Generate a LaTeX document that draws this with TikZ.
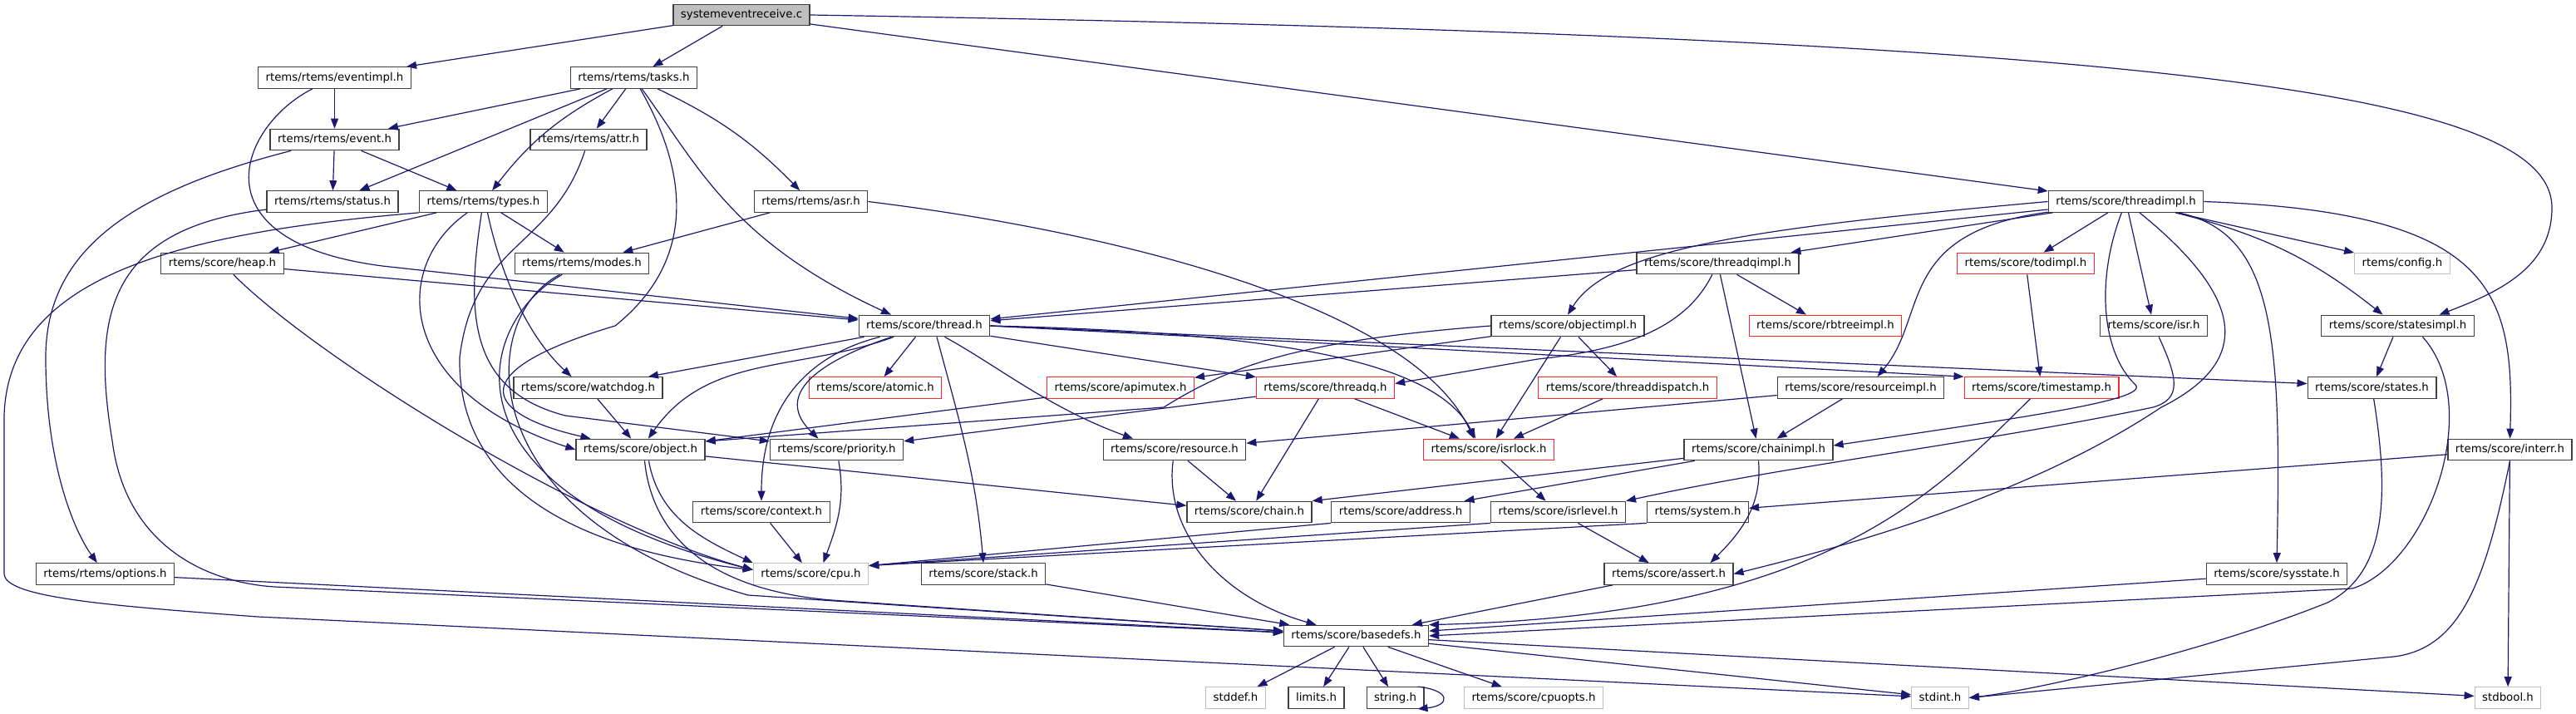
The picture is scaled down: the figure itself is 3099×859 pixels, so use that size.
\documentclass[tikz,border=0pt]{standalone}
\usepackage{fontspec}
\setmainfont{DejaVu Sans}
\usetikzlibrary{arrows.meta}
\definecolor{edgeblue}{RGB}{25,25,112}
\definecolor{boxgrey}{RGB}{64,64,64}
\definecolor{lightgrey}{RGB}{191,191,191}
\definecolor{boxred}{RGB}{255,40,40}
\begin{document}
\begin{tikzpicture}[x=1pt,y=1pt,
  hdr/.style={draw=boxgrey, fill=white, line width=1.2pt, inner xsep=9pt, inner ysep=0pt, minimum height=25.5pt, text height=10pt, text depth=3pt, font=\fontsize{13.3}{16}\selectfont},
  redhdr/.style={hdr, draw=boxred},
  syshdr/.style={hdr, draw=lightgrey},
  tophdr/.style={hdr, fill=lightgrey},
  dep/.style={draw=edgeblue, line width=1.2pt, -{Triangle[length=12pt,width=9pt]}}]
        \useasboundingbox (0,0) rectangle (3099,-859);
        \node[tophdr] (src) at (892,-18) {systemeventreceive.c};
        \node[hdr] (evimpl) at (402.5,-93.5) {rtems/rtems/eventimpl.h};
        \node[hdr] (tasks) at (762.5,-93.5) {rtems/rtems/tasks.h};
        \node[hdr] (event) at (402.5,-168) {rtems/rtems/event.h};
        \node[hdr] (attr) at (708,-168) {rtems/rtems/attr.h};
        \node[hdr] (status) at (400,-242.5) {rtems/rtems/status.h};
        \node[hdr] (types) at (581.5,-242.5) {rtems/rtems/types.h};
        \node[hdr] (asr) at (975.5,-242.5) {rtems/rtems/asr.h};
        \node[hdr] (thimpl) at (2557.5,-242.5) {rtems/score/threadimpl.h};
        \node[hdr] (heap) at (267.5,-317) {rtems/score/heap.h};
        \node[hdr] (modes) at (700,-317) {rtems/rtems/modes.h};
        \node[hdr] (tqimpl) at (2066.5,-317) {rtems/score/threadqimpl.h};
        \node[redhdr] (todimpl) at (2437,-317) {rtems/score/todimpl.h};
        \node[syshdr] (config) at (2890,-317) {rtems/config.h};
        \node[hdr] (thread) at (1112,-392) {rtems/score/thread.h};
        \node[hdr] (objimpl) at (1886,-392) {rtems/score/objectimpl.h};
        \node[redhdr] (rbtree) at (2196,-392) {rtems/score/rbtreeimpl.h};
        \node[hdr] (isr) at (2591,-392) {rtems/score/isr.h};
        \node[hdr] (stimpl) at (2884.5,-392) {rtems/score/statesimpl.h};
        \node[hdr] (watchdog) at (707.5,-466.5) {rtems/score/watchdog.h};
        \node[redhdr] (atomic) at (1053,-466.5) {rtems/score/atomic.h};
        \node[redhdr] (apimutex) at (1348,-466.5) {rtems/score/apimutex.h};
        \node[redhdr] (threadq) at (1594.5,-466.5) {rtems/score/threadq.h};
        \node[redhdr] (tdisp) at (1958,-466.5) {rtems/score/threaddispatch.h};
        \node[hdr] (resimpl) at (2238.5,-466.5) {rtems/score/resourceimpl.h};
        \node[redhdr] (tstamp) at (2456,-466.5) {rtems/score/timestamp.h};
        \node[hdr] (states) at (2853.5,-466.5) {rtems/score/states.h};
        \node[hdr] (object) at (770.5,-541) {rtems/score/object.h};
        \node[hdr] (priority) at (1006.5,-541) {rtems/score/priority.h};
        \node[hdr] (resource) at (1413,-541) {rtems/score/resource.h};
        \node[redhdr] (isrlock) at (1791,-541) {rtems/score/isrlock.h};
        \node[hdr] (chimpl) at (2115.5,-541) {rtems/score/chainimpl.h};
        \node[hdr] (interr) at (3019.5,-541) {rtems/score/interr.h};
        \node[hdr] (context) at (916,-616) {rtems/score/context.h};
        \node[hdr] (chain) at (1503,-616) {rtems/score/chain.h};
        \node[hdr] (address) at (1685,-616) {rtems/score/address.h};
        \node[hdr] (isrlevel) at (1874.5,-616) {rtems/score/isrlevel.h};
        \node[hdr] (system) at (2042.5,-616) {rtems/system.h};
        \node[hdr] (options) at (126.5,-690.5) {rtems/rtems/options.h};
        \node[syshdr] (cpu) at (975.5,-690.5) {rtems/score/cpu.h};
        \node[hdr] (stack) at (1183,-690.5) {rtems/score/stack.h};
        \node[hdr] (assert) at (2007.5,-690.5) {rtems/score/assert.h};
        \node[hdr] (sysstate) at (2739,-690.5) {rtems/score/sysstate.h};
        \node[hdr] (basedefs) at (1631.5,-765) {rtems/score/basedefs.h};
        \node[syshdr] (stddef) at (1486.5,-839.5) {stddef.h};
        \node[hdr] (limits) at (1583.5,-839.5) {limits.h};
        \node[hdr] (string) at (1678.5,-839.5) {string.h};
        \node[syshdr] (cpuopts) at (1845,-839.5) {rtems/score/cpuopts.h};
        \node[syshdr] (stdint) at (2334,-839.5) {stdint.h};
        \node[syshdr] (stdbool) at (3017,-839.5) {stdbool.h};
        \draw[dep] (src) -- (evimpl);
        \draw[dep] (src) -- (tasks);
        \draw[dep] (src) -- (thimpl);
        \draw[dep] (src.east) .. controls (2600,-45) and (3070,-110) .. (3070,-250) .. controls (3070,-320) and (3010,-350) .. ([xshift=50pt]stimpl.north);
        \draw[dep] (evimpl) -- (event);
        \draw[dep] (evimpl) .. controls (290,-150) and (230,-290) .. (460,-320) -- (thread);
        \draw[dep] (tasks) -- (event);
        \draw[dep] (tasks) -- (status);
        \draw[dep] (tasks) to[bend right=12] (types);
        \draw[dep] (tasks) -- (attr);
        \draw[dep] (tasks) to[bend left=10] (asr);
        \draw[dep] (tasks) .. controls (840,-200) and (880,-290) .. ([xshift=-40pt]thread.north);
        \draw[dep] (tasks) .. controls (835,-220) and (830,-320) .. (740,-392) .. controls (545,-450) and (590,-500) .. ([xshift=-60pt]object.north);
        \draw[dep] (event) -- (status);
        \draw[dep] (event) -- (types);
        \draw[dep] (event) .. controls (160,-230) and (55,-300) .. (55,-430) .. controls (55,-560) and (90,-640) .. (options);
        \draw[dep] (status) .. controls (130,-275) and (110,-380) .. (135,-530) .. controls (150,-650) and (240,-700) .. (330,-706) -- (basedefs);
        \draw[dep] (attr) .. controls (665,-300) and (570,-290) .. (553,-430) .. controls (550,-600) and (720,-665) .. ([yshift=5pt]cpu.west);
        \draw[dep] (types) -- (heap);
        \draw[dep] (types) -- (modes);
        \draw[dep] (types) .. controls (470,-320) and (475,-470) .. (object.west);
        \draw[dep] (types) .. controls (560,-380) and (565,-470) .. (680,-500) -- (priority);
        \draw[dep] ([xshift=5pt]types.south) .. controls (600,-320) and (630,-400) .. ([xshift=-20pt]watchdog.north);
        \draw[dep] (types.south west) .. controls (220,-280) and (10,-330) .. (5,-500) -- (5,-690) .. controls (5,-718) and (120,-728) .. (310,-742) -- (stdint);
        \draw[dep] (asr) -- (modes);
        \draw[dep] (asr.east) .. controls (1350,-280) and (1700,-370) .. ([xshift=-18pt]isrlock.north);
        \draw[dep] (heap) -- (thread);
        \draw[dep] (heap) .. controls (380,-430) and (700,-630) .. ([yshift=5pt]cpu.west);
        \draw[dep] (modes) .. controls (570,-390) and (525,-590) .. ([yshift=5pt]cpu.west);
        \draw[dep] (modes) .. controls (575,-380) and (560,-620) .. (900,-716) -- (basedefs);
        \draw[dep] (watchdog) -- (object);
        \draw[dep] (thread) -- (watchdog);
        \draw[dep] (thread) to[out=-160,in=55] (object);
        \draw[dep] (thread) .. controls (980,-425) and (916,-480) .. (context.north);
        \draw[dep] (thread) .. controls (970,-440) and (935,-480) .. ([xshift=-22pt]priority.north);
        \draw[dep] (thread) -- (atomic);
        \draw[dep] ([xshift=15pt]thread.south) to[out=-75,in=95] (stack.north);
        \draw[dep] (thread) .. controls (1200,-440) and (1260,-490) .. ([xshift=-50pt]resource.north);
        \draw[dep] (thread) -- (threadq);
        \draw[dep] (thread.east) .. controls (1560,-400) and (1730,-440) .. ([xshift=-16pt]isrlock.north);
        \draw[dep] (thread.east) -- (tstamp.north west);
        \draw[dep] (thread.east) -- ([yshift=5pt]states.west);
        \draw[dep] (objimpl) -- (apimutex);
        \draw[dep] (objimpl.west) .. controls (1560,-410) and (1480,-440) .. (1400,-490) -- ([yshift=10pt]object.east);
        \draw[dep] (objimpl) -- (isrlock);
        \draw[dep] (objimpl) -- (tdisp);
        \draw[dep] (tqimpl) -- (thread);
        \draw[dep] (tqimpl) .. controls (2030,-390) and (1965,-420) .. (1850,-432) -- ([yshift=5pt]threadq.east);
        \draw[dep] (tqimpl) -- (chimpl);
        \draw[dep] (tqimpl) -- (rbtree);
        \draw[dep] (thimpl) -- (thread);
        \draw[dep] (thimpl.west) .. controls (2100,-275) and (1935,-300) .. (objimpl.north);
        \draw[dep] (thimpl) -- (tqimpl);
        \draw[dep] (thimpl) .. controls (2280,-280) and (2320,-380) .. ([xshift=20pt]resimpl.north);
        \draw[dep] (thimpl) -- (todimpl);
        \draw[dep] (thimpl) .. controls (2520,-340) and (2530,-425) .. (2568,-462) .. controls (2590,-480) and (2450,-500) .. ([yshift=5pt]chimpl.east);
        \draw[dep] (thimpl) -- (isr);
        \draw[dep] (thimpl) .. controls (2690,-350) and (2720,-430) .. (2600,-490) .. controls (2450,-590) and (2250,-650) .. (assert.east);
        \draw[dep] (thimpl) -- (config);
        \draw[dep] (thimpl) to[bend left=12] (stimpl);
        \draw[dep] (thimpl) .. controls (2735,-280) and (2745,-400) .. (sysstate.north);
        \draw[dep] (thimpl.east) .. controls (3000,-255) and (3025,-350) .. (interr.north);
        \draw[dep] (todimpl) -- (tstamp);
        \draw[dep] (isr) .. controls (2620,-455) and (2625,-480) .. (2590,-490) .. controls (2400,-530) and (2150,-560) .. (isrlevel.north east);
        \draw[dep] (stimpl) -- (states);
        \draw[dep] ([xshift=30pt]stimpl.south) .. controls (2990,-490) and (2920,-680) .. (2830,-708) -- (basedefs.east);
        \draw[dep] (states) .. controls (2875,-600) and (2870,-690) .. (2800,-725) .. controls (2650,-785) and (2450,-830) .. (stdint.east);
        \draw[dep] (sysstate) -- (basedefs);
        \draw[dep] (interr) -- (system);
        \draw[dep] (interr.south) .. controls (2990,-700) and (2960,-780) .. (2880,-790) -- (stdint.east);
        \draw[dep] (interr) -- (stdbool);
        \draw[dep] (tdisp) -- (isrlock);
        \draw[dep] (threadq) -- (priority);
        \draw[dep] (threadq) -- (chain);
        \draw[dep] (threadq) -- (isrlock);
        \draw[dep] (apimutex) -- (object);
        \draw[dep] (resource) -- (chain);
        \draw[dep] (resource) .. controls (1400,-640) and (1470,-720) .. (basedefs);
        \draw[dep] (resimpl) -- (resource);
        \draw[dep] (resimpl) -- (chimpl);
        \draw[dep] (chimpl) -- (chain.north east);
        \draw[dep] (chimpl) -- (address);
        \draw[dep] (chimpl.south) to[out=-85,in=45] ([xshift=50pt]assert.north);
        \draw[dep] (isrlock) -- (isrlevel);
        \draw[dep] (isrlevel) -- (assert);
        \draw[dep] (isrlevel.south west) -- ([yshift=10pt]cpu.east);
        \draw[dep] (address.south west) -- ([yshift=10pt]cpu.east);
        \draw[dep] (system.south west) -- ([yshift=10pt]cpu.east);
        \draw[dep] (object) -- (chain);
        \draw[dep] ([xshift=10pt]object.south) to[out=-80,in=155] (cpu.north west);
        \draw[dep] ([xshift=5pt]object.south) .. controls (785,-650) and (860,-710) .. (1000,-722) -- (basedefs);
        \draw[dep] (context) -- (cpu);
        \draw[dep] (priority) to[out=-80,in=70] ([xshift=15pt]cpu.north);
        \draw[dep] (stack) -- (basedefs);
        \draw[dep] (assert) -- (basedefs);
        \draw[dep] (options) -- (basedefs);
        \draw[dep] (tstamp) .. controls (2330,-590) and (2200,-740) .. (basedefs.north east);
        \draw[dep] (basedefs) -- (stddef);
        \draw[dep] (basedefs) -- (limits);
        \draw[dep] (basedefs) -- (string);
        \draw[dep] (basedefs) -- (cpuopts);
        \draw[dep] (basedefs) -- (stdint);
        \draw[dep] (basedefs) -- (stdbool);
        \draw[dep] ([xshift=-8pt]string.north east) .. controls +(40,-4) and +(40,4) .. ([xshift=-8pt]string.south east);
\end{tikzpicture}
\end{document}
